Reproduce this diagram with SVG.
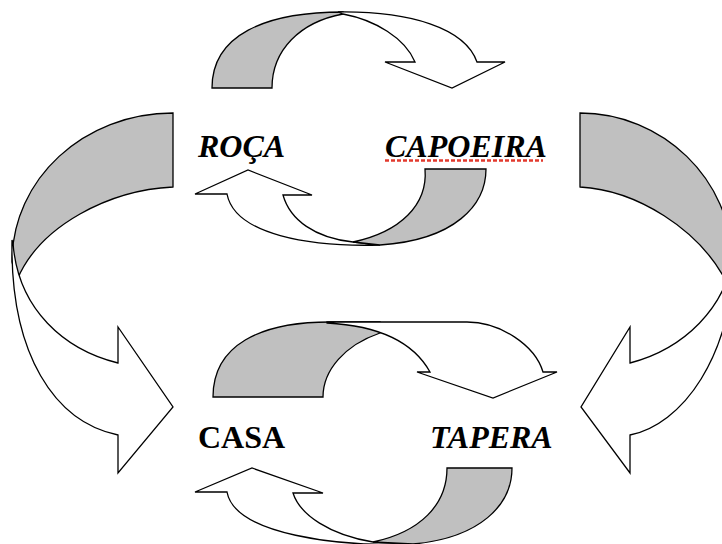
<svg xmlns="http://www.w3.org/2000/svg" width="722" height="544" viewBox="0 0 722 544">
<style>
.g{fill:#c0c0c0;stroke:#000;stroke-width:1.3;stroke-linejoin:miter}
.w{fill:#fff;stroke:#000;stroke-width:1.3;stroke-linejoin:miter}
.t{font-family:"Liberation Serif","Times New Roman",serif;font-size:32px;font-weight:bold;fill:#000}
.i{font-style:italic}
</style>
<rect width="722" height="544" fill="#fff"/>
<g id="connectors">
  <g id="roca-to-capoeira">
    <path class="g" d="M212,88 C212,35 265,12 343,12 L343,14 C300,22 272,50 272,88 Z"/>
    <path class="w" d="M338,12 C410,11 465,28 477,62 L505,62 L452,88 L385,62 L415,62 C405,38 375,20 343,14 Z"/>
  </g>
  <g id="capoeira-to-roca">
    <path class="w" d="M380,245 C310,247 235,235 227,194 L195,194 L248,170 L312,195 L283,195 C290,220 315,238 353,242 Z"/>
    <path class="g" d="M425,169 L486,169 C486,205 455,240 380,245 L353,242 C400,232 428,205 425,169 Z"/>
  </g>
  <g id="roca-to-casa">
    <path class="g" d="M173,113 C84,113 12,179 12,262 L17,280 C40,225 110,190 173,187 Z"/>
    <path class="w" d="M12,240 C10,355 55,422 118,435 L118,473 L173,407 L118,327 L118,363 C65,350 18,310 13,243 Z"/>
  </g>
  <g id="capoeira-to-tapera">
    <path class="g" d="M580,113 C662,113 732,179 732,262 L728,285 C700,228 635,190 580,187 Z"/>
    <path class="w" d="M735,240 C735,360 680,425 630,435 L630,473 L581,407 L630,327 L630,363 C680,350 730,310 735,243 Z"/>
  </g>
  <g id="casa-to-tapera">
    <path class="g" d="M213,397 C213,345 260,322 330,322 L380,322 L380,333 C345,345 323,370 323,397 Z"/>
    <path class="w" d="M327,322 L467,322 C500,322 535,345 543,372 L557,372 L493,398 L417,372 L430,372 C415,345 385,326 327,323 Z"/>
  </g>
  <g id="tapera-to-casa">
    <path class="w" d="M413,544 C340,547 235,535 227,492 L195,492 L252,468 L323,493 L293,493 C300,515 330,535 373,542 Z"/>
    <path class="g" d="M447,468 L512,468 C512,505 480,538 413,544 L373,542 C420,532 447,505 447,468 Z"/>
  </g>
</g>
<g id="node-roca"><text class="t i" x="198" y="157">ROÇA</text></g>
<g id="node-capoeira"><text class="t i" x="385" y="157">CAPOEIRA</text>
  <line x1="385" y1="160.5" x2="543" y2="160.5" stroke="#e23a2e" stroke-width="2.5" stroke-dasharray="4 2"/></g>
<g id="node-casa"><text class="t" x="198" y="448">CASA</text></g>
<g id="node-tapera"><text class="t i" x="430" y="448">TAPERA</text></g>
</svg>
